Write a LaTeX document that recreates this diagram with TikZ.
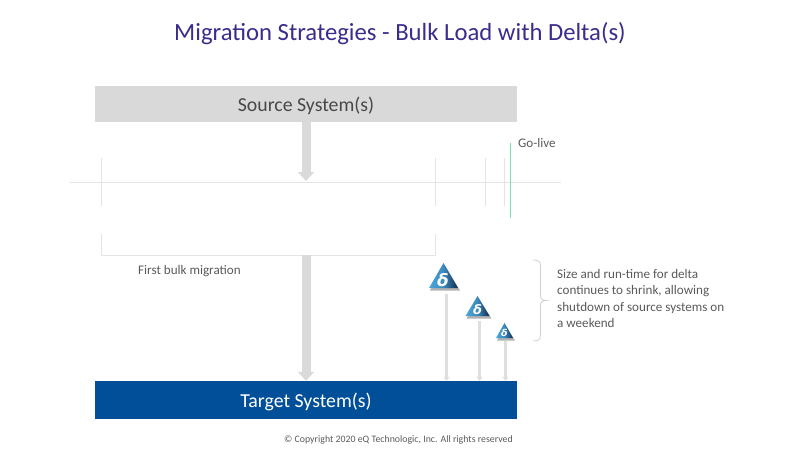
\documentclass[tikz,border=0pt]{standalone}
\usepackage{fontspec}
\setmainfont{Carlito}
\newfontfamily\dfont{DejaVu Sans}
\usetikzlibrary{arrows.meta}
\definecolor{titlec}{HTML}{3A2C8C}
\definecolor{txt}{HTML}{5A5A5A}
\definecolor{srcgray}{HTML}{D9D9D9}
\definecolor{tgtblue}{HTML}{004F98}
\definecolor{rulegray}{HTML}{E4E4E4}
\definecolor{golive}{HTML}{7FDDB0}
\definecolor{arrowgray}{HTML}{DADADA}
\definecolor{thingray}{HTML}{DFDFDF}
\definecolor{bracec}{HTML}{CFCFCF}
\definecolor{dlight}{HTML}{4AA8DC}
\definecolor{ddark}{HTML}{0F2A50}
\tikzset{
  x=1pt,y=-1pt,
  bigarrow/.style={draw=arrowgray,line width=9pt,-{Triangle[width=16pt,length=9pt]}},
  thinarrow/.style={draw=thingray,line width=3pt,-{Triangle[width=6pt,length=4pt]}},
  rulel/.style={draw=rulegray,line width=0.9pt},
  label/.style={text=txt,font=\fontsize{13.1}{16.4}\selectfont,inner sep=0pt},
  sysbox/.style={minimum width=422pt,inner sep=0pt,font=\fontsize{19.8}{24}\selectfont},
  deltatext/.style={text=white,inner sep=0pt}
}
\newcommand{\deltri}[4]{% apex x, apex y, half width, height
  \fill[gray!60] (#1+1,#2+2) -- (#1+#3+2,#2+#4+2.5) -- (#1-#3+1,#2+#4+2.5) -- cycle;
  \shade[left color=dlight,right color=ddark,middle color=dlight!75!ddark] (#1,#2) -- (#1+#3,#2+#4) -- (#1-#3,#2+#4) -- cycle;
}
\begin{document}
\begin{tikzpicture}
\useasboundingbox (0,0) rectangle (800,450);
\node[text=titlec,font=\fontsize{24.7}{30}\selectfont,inner sep=0pt] (title) at (400,33.5) {Migration Strategies - Bulk Load with Delta(s)};
\node[sysbox,minimum height=36.5pt,fill=srcgray,text=txt!80!black] (source) at (306,104) {};
\node[text=txt!80!black,font=\fontsize{19.8}{24}\selectfont,inner sep=0pt] (sourcelbl) at (306,105.5) {Source System(s)};
\node[sysbox,minimum height=38pt,fill=tgtblue,text=white] (target) at (306,400) {};
\node[text=white,font=\fontsize{19.8}{24}\selectfont,inner sep=0pt] (targetlbl) at (306,401.5) {Target System(s)};
% timeline
\coordinate (tl) at (70,182.5); \coordinate (tr) at (561,182.5);
\draw[rulel] (tl) -- (tr);
\foreach \xx in {101,435,485,504}{\draw[rulel] (\xx,158) -- (\xx,206);}
\draw[golive,line width=1pt] (510,143) -- (510,218);
% bracket
\coordinate (bl) at (101,234); \coordinate (br) at (435,234);
\draw[rulel] (bl) |- (br |- 0,255) -- (br);
\coordinate (tm) at (306,181);
\coordinate (bm) at (306,255);
\draw[bigarrow] (source.south -| tm) -- (tm);
\draw[bigarrow] (bm) -- (bm |- target.north);
% deltas
\deltri{443.5}{263}{14.5}{25}
\deltri{477.5}{296}{12}{20}
\deltri{504.5}{323}{8.5}{15}
\node[deltatext,font=\dfont\fontsize{17}{17}\selectfont\bfseries\itshape] (d1) at (443,280) {δ};
\node[deltatext,font=\dfont\fontsize{13}{13}\selectfont\bfseries\itshape] (d2) at (477.5,309.5) {δ};
\node[deltatext,font=\dfont\fontsize{9.5}{10}\selectfont\bfseries\itshape] (d3) at (504.5,332.5) {δ};
\coordinate (a1) at (446.5,294); \coordinate (a2) at (479.5,321); \coordinate (a3) at (505.5,341);
\draw[thinarrow] (a1) -- (a1 |- target.north);
\draw[thinarrow] (a2) -- (a2 |- target.north);
\draw[thinarrow] (a3) -- (a3 |- target.north);
% brace
\draw[bracec,line width=0.8pt] (533,260) .. controls (538,260) and (540.5,261) .. (540.5,266) -- (540.5,295) .. controls (540.5,299) and (542,300.5) .. (546.5,300.5) .. controls (542,300.5) and (540.5,302) .. (540.5,306) -- (540.5,335) .. controls (540.5,340) and (538,341) .. (533,341);
% texts
\node[label,anchor=west] (golbl) at (518,142.5) {Go-live};
\node[label,anchor=west] (first) at (138,271.5) {First bulk migration};
\node[label,anchor=north west,align=left] (note) at (557,269) {Size and run-time for delta\\continues to shrink, allowing\\shutdown of source systems on\\a weekend};
\node[text=txt,font=\fontsize{9.85}{12}\selectfont,inner sep=0pt] (copy) at (398.5,440) {© Copyright 2020 eQ Technologic, Inc. All rights reserved};
\end{tikzpicture}
\end{document}
